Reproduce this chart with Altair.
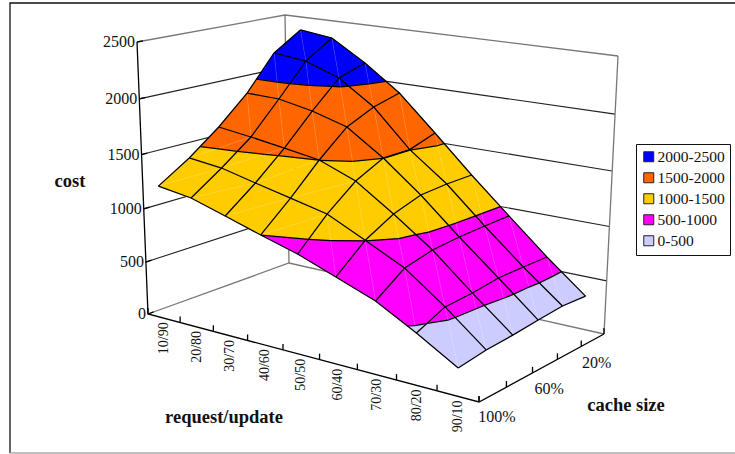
import numpy as np
import pandas as pd
import altair as alt

CATEGORIES = ["10/90", "20/80", "30/70", "40/60", "50/50", "60/40", "70/30", "80/20", "90/10"]
CACHE_LABELS = ["100%", "60%", "20%"]
CACHE_LABEL_DEPTHS = [0.1, 0.5, 0.9]
COST_TICKS = [0, 500, 1000, 1500, 2000, 2500]

# Cost per request/update mix, one list per cache-size row, front to back.
COST_ROW_0 = [1242, 1197, 1101, 1001, 905, 780, 651, 458, 246]
COST_ROW_1 = [1422, 1388, 1313, 1241, 1165, 1003, 833, 572, 281]
COST_ROW_2 = [1637, 1598, 1552, 1502, 1374, 1144, 893, 586, 294]
COST_ROW_3 = [1889, 1882, 1821, 1728, 1502, 1228, 915, 617, 315]
COST_ROW_4 = [2209, 2175, 2063, 1843, 1503, 1245, 923, 616, 333]
COST_ROW_5 = [2376, 2338, 2145, 1909, 1585, 1248, 927, 610, 318]

BAND_LABELS = ["2000-2500", "1500-2000", "1000-1500", "500-1000", "0-500"]
BAND_LOWS = [2000, 1500, 1000, 500, 0]
BAND_COLORS = ["#0000ff", "#ff6600", "#ffcc00", "#ff00ff", "#ccccff"]

SERIF = "Liberation Serif"
W, H = 735, 454
Z_MAX = 2500.0
Z_FORESHORTEN = 0.055

cost = np.array([COST_ROW_0, COST_ROW_1, COST_ROW_2, COST_ROW_3, COST_ROW_4, COST_ROW_5], float)
n_rows, n_cols = cost.shape


def homography(corners):
    """Plane map from the unit square to screen pixels."""
    unit = [(0, 0), (1, 0), (1, 1), (0, 1)]
    a, b = [], []
    for (u, v), (x, y) in zip(unit, corners):
        a.append([u, v, 1, 0, 0, 0, -u * x, -v * x])
        b.append(x)
        a.append([0, 0, 0, u, v, 1, -u * y, -v * y])
        b.append(y)
    return np.append(np.linalg.solve(np.array(a, float), np.array(b, float)), 1).reshape(3, 3)


FLOOR = homography([(148, 314), (479, 402), (604, 334), (289, 263)])
CEILING = homography([(137, 42), (486, 97), (618, 56), (285, 15)])


def plane(m, u, v):
    p = m @ np.array([u, v, 1.0])
    return p[:2] / p[2]


def project(u, v, z):
    """Perspective position of a point in the unit box; z is in cost units."""
    w = z / Z_MAX
    t = w * (1 - Z_FORESHORTEN) / (1 - Z_FORESHORTEN * w)
    return (1 - t) * plane(FLOOR, u, v) + t * plane(CEILING, u, v)


def node(j, i):
    """3D grid node as (u, v, cost)."""
    return ((i + 0.5) / n_cols, j / (n_rows - 1), cost[j, i])


def clip(poly, level, keep_above):
    """Clip a polygon of (u, v, cost) points against a cost level."""
    out = []
    for k, a in enumerate(poly):
        b = poly[(k + 1) % len(poly)]
        ina = a[2] >= level if keep_above else a[2] <= level
        inb = b[2] >= level if keep_above else b[2] <= level
        if ina:
            out.append(a)
        if ina != inb:
            s = (level - a[2]) / (b[2] - a[2])
            out.append(tuple(a[m] + s * (b[m] - a[m]) for m in range(3)))
    return out


# Split each cell into two triangles, then each triangle into cost bands.
features = []
contour_rows = []
seam_rows = []
line_id = 0


def add_line(rows, pts, key):
    for order, (x, y) in enumerate(pts):
        rows.append({"x": float(x), "y": float(y), "id": key, "o": order})


for j in range(n_rows - 2, -1, -1):
    for i in range(n_cols - 1):
        p00, p01 = node(j, i), node(j, i + 1)
        p10, p11 = node(j + 1, i), node(j + 1, i + 1)
        if j <= 1 and i <= 3:
            tris = [(p00, p01, p11), (p00, p11, p10)]
            seam = (p00, p11)
        else:
            tris = [(p00, p01, p10), (p01, p11, p10)]
            seam = (p01, p10)
        line_id += 1
        add_line(seam_rows, [project(*seam[0]), project(*seam[1])], line_id)
        for tri in tris:
            for low, label in zip(BAND_LOWS, BAND_LABELS):
                part = clip(clip(list(tri), low, True), low + 500, False)
                if len(part) < 3:
                    continue
                ring = [[float(c) for c in project(*q)] for q in part]
                ring.append(ring[0])
                features.append({
                    "type": "Feature",
                    "properties": {"band": label},
                    "geometry": {"type": "Polygon", "coordinates": [ring]},
                })
            # Contour segments where a level crosses this triangle.
            for level in BAND_LOWS[:-1]:
                hits = []
                for k in range(3):
                    a, b = tri[k], tri[(k + 1) % 3]
                    if (a[2] - level) * (b[2] - level) < 0:
                        s = (level - a[2]) / (b[2] - a[2])
                        hits.append(project(*[a[m] + s * (b[m] - a[m]) for m in range(3)]))
                if len(hits) == 2:
                    line_id += 1
                    add_line(contour_rows, hits, line_id)

# Mesh lines along both grid directions plus the outer edge.
mesh_rows = []
for j in range(n_rows):
    line_id += 1
    add_line(mesh_rows, [project(*node(j, i)) for i in range(n_cols)], line_id)
for i in range(n_cols):
    line_id += 1
    add_line(mesh_rows, [project(*node(j, i)) for j in range(n_rows)], line_id)

# Box: back walls, floor edges, front axes and their ticks.
grid_rows, frame_rows, axis_rows = [], [], []
for z in COST_TICKS[1:-1]:
    line_id += 1
    add_line(grid_rows, [project(0, 0, z), project(0, 1, z), project(1, 1, z)], line_id)
line_id += 1
add_line(frame_rows, [project(0, 0, Z_MAX), project(0, 1, Z_MAX), project(1, 1, Z_MAX)], line_id)
line_id += 1
add_line(frame_rows, [project(0, 0, 0), project(0, 1, 0), project(1, 1, 0)], line_id)
line_id += 1
add_line(frame_rows, [project(0, 1, 0), project(0, 1, Z_MAX)], line_id)
line_id += 1
add_line(frame_rows, [project(1, 1, 0), project(1, 1, Z_MAX)], line_id)
line_id += 1
add_line(axis_rows, [project(0, 0, Z_MAX), project(0, 0, 0), project(1, 0, 0), project(1, 1, 0)], line_id)
TICK_RISE = 6
for k in range(n_cols + 1):
    p = project(k / n_cols, 0, 0)
    line_id += 1
    add_line(axis_rows, [p, p - np.array([0, TICK_RISE])], line_id)
for k in range(6):
    p = project(1, k / 5, 0)
    line_id += 1
    add_line(axis_rows, [p, p - np.array([0, TICK_RISE])], line_id)
for z in COST_TICKS:
    a, b = project(0, 0, z), project(0, 1, z)
    line_id += 1
    add_line(axis_rows, [a, a + (b - a) * 0.04], line_id)

# Text positions follow the projected axes.
cat_labels = pd.DataFrame([
    {"x": float(project((k + 0.5) / n_cols, 0, 0)[0]), "y": float(project((k + 0.5) / n_cols, 0, 0)[1] + 20), "t": c}
    for k, c in enumerate(CATEGORIES)
])
cache_labels = pd.DataFrame([
    {"x": float(project(1, d, 0)[0] + 4), "y": float(project(1, d, 0)[1] + 23), "t": c}
    for c, d in zip(CACHE_LABELS, CACHE_LABEL_DEPTHS)
])
cost_labels = pd.DataFrame([
    {"x": float(project(0, 0, z)[0] - 2), "y": float(project(0, 0, z)[1]), "t": str(z)}
    for z in COST_TICKS
])
titles = pd.DataFrame([
    {"x": 70, "y": 181, "t": "cost"},
    {"x": 224, "y": 417, "t": "request/update"},
    {"x": 626, "y": 405, "t": "cache size"},
])

X = alt.X("x:Q", axis=None, scale=alt.Scale(domain=[0, W], nice=False, zero=False))
Y = alt.Y("y:Q", axis=None, scale=alt.Scale(domain=[H, 0], nice=False, zero=False))


def lines(rows, color, width, opacity=1.0):
    return alt.Chart(pd.DataFrame(rows)).mark_line(
        color=color, strokeWidth=width, opacity=opacity, clip=False
    ).encode(x=X, y=Y, detail="id:N", order="o:Q")


def text(df, size, bold=False, angle=0, align="center"):
    return alt.Chart(df).mark_text(
        font=SERIF, fontSize=size, fontWeight="bold" if bold else "normal",
        angle=angle, align=align, baseline="middle", color="#111111",
    ).encode(x=X, y=Y, text="t:N")


surface = alt.Chart(
    alt.Data(values=features, format=alt.DataFormat(type="json"))
).mark_geoshape(strokeWidth=0.4).encode(
    fill=alt.Color(
        "properties.band:N",
        scale=alt.Scale(domain=BAND_LABELS, range=BAND_COLORS),
        legend=alt.Legend(
            title=None, orient="none", legendX=636, legendY=144,
            symbolType="square", symbolSize=100, symbolStrokeColor="#222222",
            symbolStrokeWidth=1, symbolOpacity=1,
            labelFont=SERIF, labelFontSize=15.5, labelColor="#111111", labelOffset=1,
            rowPadding=4, padding=5, fillColor="white", strokeColor="#111111",
        ),
    ),
    stroke=alt.Color("properties.band:N", scale=alt.Scale(domain=BAND_LABELS, range=BAND_COLORS), legend=None),
).project(type="identity", scale=1, translate=[0, 0])

page_rows = []
add_line(page_rows, [(10, H - 1), (10, 3), (W, 3)], "outer")
page_bottom = []
add_line(page_bottom, [(10, H - 1), (W, H - 1)], "outer")

chart = alt.layer(
    lines(page_rows, "#111111", 1.3),
    lines(page_bottom, "#aaaaaa", 1.4),
    lines(grid_rows, "#222222", 1.1),
    lines(frame_rows, "#777777", 1.3),
    lines(axis_rows, "#000000", 1.3),
    surface,
    lines(seam_rows, "#ffffff", 0.6, 0.22),
    lines(contour_rows, "#000000", 1.25),
    lines(mesh_rows, "#000000", 1.25),
    text(cat_labels, 14, angle=270),
    text(cache_labels, 16),
    text(cost_labels, 16, align="right"),
    text(titles, 18.5, bold=True),
).resolve_scale(fill="independent").properties(
    width=W, height=H, padding=0, autosize=alt.AutoSizeParams(type="none"),
).configure_view(stroke=None)

chart.save("out.html", embed_options={"renderer": "svg", "actions": False})
